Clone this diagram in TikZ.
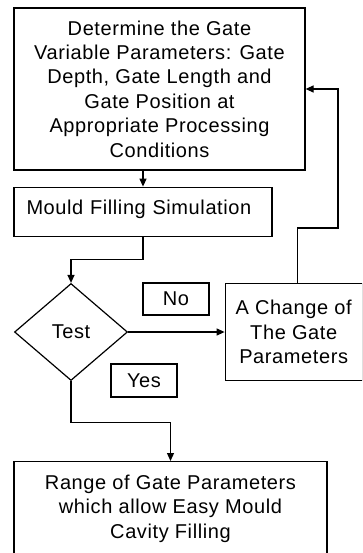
\documentclass[tikz,border=0pt]{standalone}
\usepackage{fontspec}
\setmainfont{Liberation Sans}[LetterSpace=3]
\usetikzlibrary{shapes.geometric}
\usetikzlibrary{arrows.meta}
\usetikzlibrary{positioning}
\tikzset{
process_box/.style={rectangle, draw, line width=1.2pt, align=center, inner sep=0pt, font=\fontsize{20}{24.4}\selectfont},
decision/.style={diamond, draw, line width=1.2pt, inner sep=0pt, minimum width=113pt, minimum height=97pt, font=\fontsize{20}{24.4}\selectfont},
answer/.style={rectangle, draw, line width=1.2pt, inner sep=0pt, minimum width=66pt, minimum height=32pt, font=\fontsize{20}{24.4}\selectfont},
flow/.style={draw, line width=1.2pt, ->}
}

\begin{document}
\begin{tikzpicture}[x=1pt, y=-1pt, >={Triangle[length=8pt,width=7pt]}]
    \useasboundingbox (0,0) rectangle (362,553);
    \clip (0,0) rectangle (362,553);

    \node[process_box, minimum width=291pt, minimum height=162pt] (determine) at (159.5,89) {Determine the Gate\\Variable Parameters: Gate\\Depth, Gate Length and\\Gate Position at\\Appropriate Processing\\Conditions};
    \node[process_box, align=left, text width=233pt, inner xsep=12.5pt, inner ysep=12pt, text height=15pt, text depth=10pt] (simulation) [below right=16pt and 0pt of determine.south west] {Mould Filling Simulation};
    \node[decision] (test) at (71,332) {Test};
    \node[answer] (no) at (176,299) {No};
    \node[process_box, minimum width=137pt, minimum height=97pt, anchor=west] (change) [right=96.5pt of test.east] {A Change of\\The Gate\\Parameters};
    \node[answer, minimum height=33pt] (yes) at (144,380.5) {Yes};
    \node[process_box, minimum width=313pt, inner ysep=13.4pt, text depth=60pt, anchor=north] (range) at (170.5,461) {Range of Gate Parameters\\which allow Easy Mould\\Cavity Filling};
    \coordinate (loop_corner) at (338,228);

    \draw[flow] (simulation.north |- determine.south) -- (simulation.north);
    \draw[flow] (simulation.south) -- ++(0,23) -| (test.north);
    \draw[flow] (test.east) -- (test.east -| change.west);
    \draw[flow] ([xshift=4pt]change.north) |- (loop_corner) |- (determine.east);
    \draw[flow] (test.south) -- ++(0,41) -| (range.north);
\end{tikzpicture}
\end{document}
